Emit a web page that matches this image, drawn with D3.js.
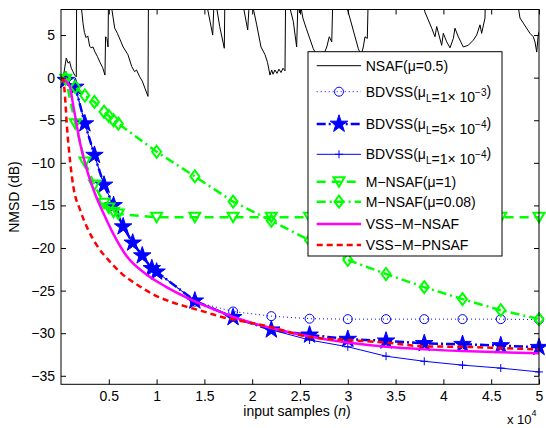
<!DOCTYPE html>
<html><head><meta charset="utf-8">
<script src="https://cdn.jsdelivr.net/npm/d3@7"></script>
<style>body{margin:0;background:#fff}svg{display:block;font-family:"Liberation Sans",Arial,sans-serif}</style>
</head><body><svg id="c" width="546" height="428"></svg>
<script>
// ---------- data ----------
const xTicks = [5000,10000,15000,20000,25000,30000,35000,40000,45000,50000];
const xTickLabels = ["0.5","1","1.5","2","2.5","3","3.5","4","4.5","5"];
const yTicks = [-35,-30,-25,-20,-15,-10,-5,0,5];

// NSAF(mu=0.5): saw-tooth tracking curve (values above 8 dB are clipped by the axes)
const nsafN  = [0,300,550,750,900,1080,1250,1430,1600,1640,1980,2300,2450,2620,2800,3000,3140,3350,3560,3800,4080,4350,4600,4660,4800,4920,4970,5050,5620,5900,6280,6500,7000,7400,7700,7900,8230,8500,9100,9150,
  15000,15870,16050,16100,16600,17080,17150,18800,19530,19750,19950,20470,20920,21340,21600,21860,22040,22180,22380,22590,22800,23010,23220,23430,23500,
  23650,24300,24650,24800,24950,25100,25300,25650,26390,26900,27400,27800,28060,28320,28450,29800,29900,31100,31400,31620,31800,32040,32150,
  37700,38070,38780,39120,39300,39820,39990,40350,40690,41040,41210,41560,42080,42600,43130,43480,43830,44000,44350,44400,
  47600,48010,48360,49060,49400,49580,49760,49920,50000];
const nsafDb = [0,0.5,2.3,1.7,1.9,1.1,0.7,0.3,0.1,10,10,6.4,5.3,4.7,4.9,3.7,3.5,3.6,3.0,2.5,1.8,1.2,0.3,4.8,4.6,3.6,10,10,5.8,5.2,4.2,3.6,2.7,1.3,0.7,0.9,0.1,-0.4,-2.2,10,
  10,5.0,10,9.5,6.0,3.45,10,10,5.6,10,9,6.2,3.6,2.7,1.8,0.3,0.9,0.4,0.9,0.5,1.0,0.6,1.1,0.8,10,
  9.5,6.6,3.6,9.5,7.6,8.3,7.0,5.8,3.4,2.3,2.5,3.6,4.8,4.2,10,10,8.3,3.4,2.6,3.6,4.8,4.6,10,
  10,7.7,5.8,4.8,6.0,3.8,5.2,4.2,3.5,4.6,5.8,4.8,3.6,3.8,4.4,5.0,6.2,5.2,7.0,10,
  10,7.0,6.4,5.2,4.8,4.2,3.0,5.0,5.4];

// BDVSS early (shared) part
const bdEarlyN  = [0,500,1500,2500,3500,4500,5500,6500,7500,8500,9500,10000];
const bdEarlyDb = [0,-0.3,-1.1,-5.4,-9.1,-12.6,-15.0,-17.5,-19.4,-20.9,-22.4,-22.8];
const bdLateN   = [14000,18000,22000,26000,30000,34000,38000,42000,46000,50000];
const bd1e3Db   = [-26.3,-27.45,-28.0,-28.3,-28.35,-28.35,-28.35,-28.35,-28.35,-28.4];
const bd5e4Db   = [-26.2,-28.15,-29.6,-30.2,-30.7,-30.9,-31.2,-31.3,-31.45,-31.65];
const bd1e4Db   = [-26.2,-28.0,-29.6,-30.8,-31.6,-32.7,-33.3,-33.75,-34.1,-34.55];

// M-NSAF
const mnN    = [0,500,1500,2500,3500,4500,5000,5500,6000,10000,14000,18000,22000,26000,30000,34000,38000,42000,46000,50000];
const mn1Db  = [0,-0.2,-5.4,-9.9,-12.6,-14.75,-15.3,-15.8,-16.0,-16.4,-16.4,-16.4,-16.4,-16.4,-16.4,-16.4,-16.4,-16.4,-16.4,-16.4];
const mn08Db = [0,-0.1,-1.1,-2.1,-2.85,-4.0,-4.5,-5.0,-5.4,-8.7,-11.6,-14.55,-16.8,-19.1,-21.4,-23.05,-24.6,-26.0,-27.3,-28.35];

// VSS-M-NSAF
const vssN  = [0,900,1300,2000,2700,3550,4600,5500,6900,8800,10900,13300,16000,18000,22000,26000,30000,34000,38000,42000,46000,50000];
const vssDb = [0,-1.0,-3.4,-7.7,-10.8,-13.6,-16.3,-18.4,-21.0,-23.0,-24.5,-25.9,-27.2,-28.1,-29.4,-30.4,-31.1,-31.6,-31.9,-32.1,-32.25,-32.35];

// VSS-M-PNSAF
const pnN  = [0,240,420,600,940,1290,1990,2860,3700,4950,6350,8090,9830,11580,13320,15060,16810,18550,22000,26000,30000,34000,38000,42000,46000,50000];
const pnDb = [0,-0.3,-2.2,-5.4,-9.7,-12.8,-15.5,-17.9,-19.6,-21.4,-23.0,-24.4,-25.55,-26.35,-26.95,-27.5,-28.1,-28.5,-29.3,-30.45,-30.8,-31.1,-31.55,-31.6,-31.75,-31.9];

const legendLabels = [
  [{t:"NSAF(μ=0.5)"}],
  [{t:"BDVSS(μ"},{t:"L",sub:1},{t:"=1× 10"},{t:"−3",sup:1},{t:")"}],
  [{t:"BDVSS(μ"},{t:"L",sub:1},{t:"=5× 10"},{t:"−4",sup:1},{t:")"}],
  [{t:"BDVSS(μ"},{t:"L",sub:1},{t:"=1× 10"},{t:"−4",sup:1},{t:")"}],
  [{t:"M−NSAF(μ=1)"}],
  [{t:"M−NSAF(μ=0.08)"}],
  [{t:"VSS−M−NSAF"}],
  [{t:"VSS−M−PNSAF"}]
];

// ---------- layout ----------
const L=61, R=539, T=9.5, B=384.3;
const x = d3.scaleLinear().domain([0,50000]).range([L,R]);
const y = d3.scaleLinear().domain([-36,8]).range([B,T]);
const svg = d3.select("#c");
const zip = (a,b)=>a.map((v,i)=>[v,b[i]]);

const BLUE="#0000ff", GREEN="#00ff00";
const series = [
  {pts: zip(nsafN,nsafDb), color:"#000", w:1, dash:null, marker:null, clip:true},
  {pts: zip(bdEarlyN.concat(bdLateN), bdEarlyDb.concat(bd1e3Db)), color:BLUE, w:1, dash:"1,3", marker:"circle", markFrom:14000},
  {pts: zip(bdEarlyN.concat(bdLateN), bdEarlyDb.concat(bd5e4Db)), color:BLUE, w:2.5, dash:"9,3,2,3", marker:"star", markFrom:500},
  {pts: zip(bdEarlyN.concat(bdLateN), bdEarlyDb.concat(bd1e4Db)), color:BLUE, w:1, dash:null, marker:"plus", markFrom:14000},
  {pts: zip(mnN,mn1Db), color:GREEN, w:2.5, dash:"9,6", marker:"tri", markFrom:500},
  {pts: zip(mnN,mn08Db), color:GREEN, w:2.5, dash:"9,4,2,4", marker:"diamond", markFrom:500},
  {pts: zip(vssN,vssDb), color:"#ff00ff", w:2.5, dash:null, marker:null, smooth:true},
  {pts: zip(pnN,pnDb), color:"#ff0000", w:2.5, dash:"6,4", marker:null, smooth:true}
];

svg.append("defs").append("clipPath").attr("id","pc")
  .append("rect").attr("x",L).attr("y",T).attr("width",R-L).attr("height",B-T);

function drawMarker(g, type, cx, cy, color){
  if(type==="circle"){
    g.append("circle").attr("cx",cx).attr("cy",cy).attr("r",4.5).attr("fill","none").attr("stroke",color).attr("stroke-width",1);
  } else if(type==="star"){
    g.append("path").attr("d",d3.symbol(d3.symbolStar,95)()).attr("transform",`translate(${cx},${cy})`)
      .attr("fill",color).attr("stroke",color).attr("stroke-width",1);
  } else if(type==="plus"){
    g.append("path").attr("d","M-4,0H4M0,-4V4").attr("transform",`translate(${cx},${cy})`)
      .attr("stroke",color).attr("stroke-width",1).attr("fill","none");
  } else if(type==="tri"){
    g.append("path").attr("d","M0,5L-5.5,-4.5L5.5,-4.5Z").attr("transform",`translate(${cx},${cy})`)
      .attr("stroke",color).attr("stroke-width",2).attr("fill","none");
  } else if(type==="diamond"){
    g.append("path").attr("d","M0,-6L4.5,0L0,6L-4.5,0Z").attr("transform",`translate(${cx},${cy})`)
      .attr("stroke",color).attr("stroke-width",2).attr("fill","none");
  }
}

const line = d3.line().x(d=>x(d[0])).y(d=>y(d[1]));
const smoothLine = d3.line().x(d=>x(d[0])).y(d=>y(d[1])).curve(d3.curveMonotoneX);
const gData = svg.append("g");
series.forEach(s=>{
  const p = gData.append("path").attr("d",(s.smooth?smoothLine:line)(s.pts)).attr("fill","none")
    .attr("stroke",s.color).attr("stroke-width",s.w).attr("stroke-linejoin","round");
  if(s.dash) p.attr("stroke-dasharray",s.dash);
  if(s.clip) p.attr("clip-path","url(#pc)");
  if(s.marker){
    s.pts.filter(d=>d[0]>=s.markFrom).forEach(d=>drawMarker(gData,s.marker,x(d[0]),y(d[1]),s.color));
  }
});

// ---------- axes ----------
const fmtY = d => d<0 ? "\u2212"+Math.abs(d) : String(d);
const ax = (g)=>{ g.select(".domain").remove(); g.selectAll("text").attr("font-size",14).attr("fill","#000").attr("font-family","Liberation Sans, Arial, sans-serif"); g.selectAll("line").attr("stroke","#000"); };
svg.append("g").attr("transform",`translate(0,${B})`)
  .call(d3.axisBottom(x).tickValues(xTicks).tickFormat((d,i)=>xTickLabels[i]).tickSizeInner(-5).tickSizeOuter(0).tickPadding(7)).call(ax);
svg.append("g").attr("transform",`translate(0,${T})`)
  .call(d3.axisTop(x).tickValues(xTicks).tickFormat("").tickSizeInner(-5).tickSizeOuter(0)).call(ax);
svg.append("g").attr("transform",`translate(${L},0)`)
  .call(d3.axisLeft(y).tickValues(yTicks).tickFormat(fmtY).tickSizeInner(-5).tickSizeOuter(0).tickPadding(6)).call(ax);
svg.append("g").attr("transform",`translate(${R},0)`)
  .call(d3.axisRight(y).tickValues(yTicks).tickFormat("").tickSizeInner(-5).tickSizeOuter(0)).call(ax);
svg.append("rect").attr("x",L).attr("y",T).attr("width",R-L).attr("height",B-T)
  .attr("fill","none").attr("stroke","#000").attr("stroke-width",1);

// axis labels
const xl = svg.append("text").attr("x",297).attr("y",416).attr("text-anchor","middle").attr("font-size",14);
xl.append("tspan").text("input samples (");
xl.append("tspan").attr("font-style","italic").text("n");
xl.append("tspan").text(")");
svg.append("text").attr("transform","translate(19,197) rotate(-90)").attr("text-anchor","middle")
  .attr("font-size",14).text("NMSD (dB)");
const ex = svg.append("text").attr("x",507).attr("y",424).attr("font-size",13);
ex.append("tspan").text("x 10");
ex.append("tspan").attr("dy",-8).attr("font-size",9).text("4");

// ---------- legend ----------
const lg = svg.append("g");
lg.append("rect").attr("x",308).attr("y",51.7).attr("width",194).attr("height",204.3)
  .attr("fill","#fff").attr("stroke","#000").attr("stroke-width",1);
const rowY = [65.7,91.7,124,154.3,181.7,201.7,224,245];
series.forEach((s,i)=>{
  const yy = rowY[i];
  const p = lg.append("line").attr("x1",316.7).attr("x2",361).attr("y1",yy).attr("y2",yy)
    .attr("stroke",s.color).attr("stroke-width",s.w);
  if(s.dash) p.attr("stroke-dasharray",s.dash);
  if(s.marker) drawMarker(lg,s.marker,339,yy,s.color);
  const t = lg.append("text").attr("x",365.7).attr("y",yy+5).attr("font-size",14);
  legendLabels[i].forEach(part=>{
    const ts = t.append("tspan").text(part.t);
    if(part.sub){ ts.attr("font-size",10).attr("dy",5); t.append("tspan").attr("dy",-5).text(""); }
    if(part.sup){ ts.attr("font-size",10).attr("dy",-6); t.append("tspan").attr("dy",6).text(""); }
  });
});
</script></body></html>
